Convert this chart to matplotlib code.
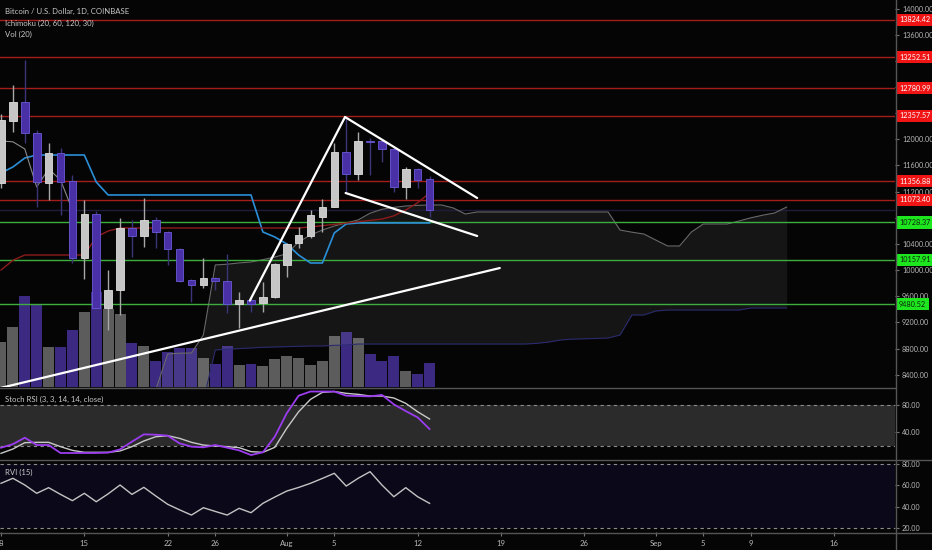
import matplotlib
matplotlib.use('Agg')
import matplotlib.pyplot as plt
import matplotlib.transforms as mtrans
from matplotlib.lines import Line2D
import numpy as np

plt.rcParams['font.family'] = ['Lato', 'DejaVu Sans']

## daily candles, day 0 = Jul 8
opens  = [11333, 12280, 12571, 12097, 11333, 11791, 11363, 10186, 10858, 9421,
          9696, 10644, 10522, 10767, 10583, 10323, 9849, 9773, 9880, 9834,
          9482, 9543, 9497, 9589, 10079, 10415, 10522, 10812, 10965, 11806,
          11470, 11968, 11974, 11852, 11271, 11546, 11393]
highs  = [12380, 12830, 13213, 12142, 11944, 11867, 11455, 11078, 10900, 10002,
          10797, 10767, 11103, 10812, 10600, 10340, 9870, 10186, 9890, 10247,
          9665, 9589, 9818, 10110, 10415, 10659, 10919, 11087, 11944, 12342,
          12112, 12020, 12000, 11883, 11577, 11560, 11439]
lows   = [11250, 12112, 11944, 10965, 11078, 10843, 10109, 9865, 9400, 9085,
          9314, 10201, 10354, 10338, 10079, 9820, 9512, 9727, 9696, 9345,
          9115, 9360, 9360, 9570, 9895, 10338, 10491, 10583, 10965, 11179,
          11378, 11455, 11653, 11195, 11087, 11255, 10812]
closes = [12295, 12571, 12097, 11347, 11791, 11347, 10186, 10858, 9421, 9696,
          10644, 10522, 10767, 10583, 10323, 9834, 9773, 9880, 9834, 9482,
          9543, 9482, 9589, 10094, 10399, 10537, 10843, 10965, 11806, 11470,
          11974, 11962, 11852, 11271, 11546, 11378, 10919]
volume = [4.5, 6.0, 9.1, 8.2, 4.0, 4.0, 5.7, 7.5, 9.5, 7.8,
          7.3, 4.4, 4.1, 2.6, 3.5, 3.9, 3.9, 2.9, 2.3, 4.1,
          2.2, 2.3, 2.1, 2.8, 3.1, 2.9, 2.2, 2.6, 5.1, 5.5,
          4.9, 3.3, 2.6, 3.1, 1.6, 1.3, 2.4]

## ichimoku (20, 60, 120, 30)
conv_line = [11485, 11577, 11714, 11760, 11760, 11760, 11760, 11760, 11347, 11149,
             11149, 11149, 11149, 11149, 11149, 11149, 11149, 11149, 11149, 11149,
             11149, 11149, 10583, 10507, 10400, 10231, 10109, 10109, 10568, 10706,
             10721, 10721, 10721, 10721, 10721, 10721, 10721]
base_line = [10002, 10150, 10231, 10231, 10231, 10231, 10231, 10231, 10506, 10598,
             10644, 10644, 10644, 10644, 10644, 10644, 10644, 10644, 10644, 10644,
             10644, 10644, 10644, 10644, 10644, 10644, 10660, 10680, 10700, 10720,
             10740, 10760, 10780, 10830, 10920, 11030, 11179]
span_start = 13
span_a = [8170, 8718, 8730, 8733, 9008, 10079, 10090, 10110, 10124, 10160,
          10200, 10250, 10430, 10537, 10613, 10675, 10721, 10767, 10870, 10930,
          10960, 10980, 10990, 10996, 10996, 10950, 10858, 10889, 10889, 10889,
          10889, 10889, 10889, 10889, 10889, 10889, 10889, 10889, 10889, 10613,
          10580, 10552, 10460, 10369, 10369, 10583, 10705, 10705, 10705, 10751,
          10800, 10840, 10874, 10965]
span_b = [8000, 8000, 8000, 8000, 8000, 8779, 8790, 8800, 8810, 8820,
          8825, 8830, 8835, 8840, 8840, 8850, 8855, 8870, 8870, 8870,
          8870, 8870, 8870, 8870, 8870, 8870, 8870, 8870, 8870, 8870,
          8870, 8870, 8880, 8900, 8932, 8945, 8950, 8955, 8962, 9008,
          9314, 9314, 9375, 9390, 9390, 9390, 9390, 9390, 9390, 9390,
          9421, 9421, 9421, 9421]
lag_shift = 30

## stoch rsi / rvi
stoch_k = [16.7, 22, 31.6, 20.7, 20.7, 8.9, 8.9, 8.9, 8.9, 9.4,
           14.3, 25.7, 36.5, 36, 34.6, 23.2, 18.3, 17.3, 20.7, 16.8,
           12.8, 5.9, 9.9, 33.1, 67.7, 93.8, 100, 100, 100, 93.8,
           93.3, 92.8, 95, 81, 71, 61.7, 44.4]
stoch_d = [8.4, 14.8, 24.2, 24.7, 24.7, 18.3, 12.8, 9.9, 9.9, 9.9,
           11.9, 18.3, 26.7, 33, 34.6, 30.6, 24.7, 20.7, 19.3, 18.3,
           16.8, 10.9, 9.9, 17.3, 45.4, 70, 88.4, 98.8, 100, 97.3,
           95.8, 93.3, 93.3, 90.4, 82.5, 70, 59.3]
rvi = [61.9, 66.6, 60.3, 52.5, 57.8, 51.5, 45.6, 52.5, 44.6, 52,
       60.3, 51.5, 58.1, 50, 42.2, 37, 32.1, 39, 35.5, 32.1,
       38.4, 34.3, 43.1, 49, 54.6, 58, 61.9, 66.5, 71.3, 59.3,
       66.6, 72.8, 60.3, 49.3, 57.8, 49.3, 43.1]

## levels and drawings
red_levels = [13824.42, 13252.51, 12780.99, 12357.57, 11356.88, 11073.40]
green_levels = [10728.37, 10157.91, 9480.52]
trend_lines = [((0.0, 8200), (41.9, 10032)),
               ((20.9, 9533), (28.9, 12341)),
               ((28.9, 12341), (40.0, 11103)),
               ((28.95, 11179), (40.0, 10522))]

price_ticks = list(range(8400, 14001, 400))
tick_pos = [0, 7, 14, 18, 24, 28, 35, 42, 49, 55, 59, 63, 70]
tick_lab = ['8', '15', '22', '26', 'Aug', '5', '12', '19', '26', 'Sep', '5', '9', '16']

BG = '#050505'
FS = 5.2
W, H = 932, 550
def rect(x0, y0, x1, y1):
    return [x0 / W, 1 - y1 / H, (x1 - x0) / W, (y1 - y0) / H]

def right_axis(a, ticks, labels):
    a.yaxis.tick_right()
    a.set_yticks(ticks)
    a.set_yticklabels(labels)
    a.tick_params(axis='y', length=3, color='#777777', labelcolor='#b8b8b8', labelsize=FS, pad=2)
    for s in a.spines.values():
        s.set_visible(False)

fig = plt.figure(figsize=(9.32, 5.5), dpi=100, facecolor=BG)
XL = (-0.084, 75.1)

days = np.arange(len(closes))
o = np.array(opens); c = np.array(closes)
up = c >= o

# volume pane (behind price)
axv = fig.add_axes(rect(0, 0, 895, 387), zorder=0, facecolor=BG)
axv.bar(days, volume, width=0.92, color=np.where(up, '#5c5c5c', '#3c2a82'), linewidth=0)
axv.set_xlim(XL); axv.set_ylim(0, 38.7)
axv.axis('off')

ax = fig.add_axes(rect(0, 0, 895, 387), zorder=1)
ax.set_facecolor('none')
ax.set_xlim(XL); ax.set_ylim(8213, 14130)

# cloud
sx = np.arange(span_start, span_start + len(span_a))
ax.fill_between(sx, span_a, span_b, color='white', alpha=0.065, linewidth=0, zorder=1)
ax.plot(sx, span_a, color='#6a6a6a', lw=0.8, zorder=2)
ax.plot(sx, span_b, color='#2a2a6e', lw=0.8, zorder=2)

for lv in red_levels:
    ax.axhline(lv, color='#a51c1c', lw=1, zorder=2)
for lv in green_levels:
    ax.axhline(lv, color='#3dae3d', lw=1, zorder=2)
ax.axhline(closes[-1], color='#1d1d3a', lw=1, zorder=1.5)

ax.plot(days, conv_line, color='#2b8fd8', lw=1.2, zorder=3)
ax.plot(days, base_line, color='#8e1b1b', lw=1, zorder=3)
ax.plot(days[lag_shift:] - lag_shift, closes[lag_shift:], color='#8a8a8a', lw=0.8, zorder=3)

# candles
ax.vlines(days, lows, highs, colors=np.where(up, '#a8a8a8', '#3b3478'), lw=1, zorder=4)
body_lo = np.minimum(o, c)
body_h = np.maximum(np.abs(c - o), 15)
ax.bar(days, body_h, bottom=body_lo, width=0.64, color=np.where(up, '#c6c6c6', '#4a30a6'),
       edgecolor=np.where(up, '#dedede', '#6a5ad8'), linewidth=0.6, zorder=5)

for (x0, y0), (x1, y1) in trend_lines:
    ax.plot([x0, x1], [y0, y1], color='white', lw=1.6, zorder=6, solid_capstyle='round')

# price labels that sit under a level box are covered in the original
levels = red_levels + green_levels
plabels = ['' if min(abs(v - lv) for lv in levels) < 100 else '%.2f' % v for v in price_ticks]
right_axis(ax, price_ticks, plabels)
ax.set_xticks([])

tr = mtrans.blended_transform_factory(ax.transAxes, ax.transData)
for lv in red_levels:
    ax.text(1.0045, lv, '%.2f' % lv, transform=tr, color='white', fontsize=FS, va='center',
            ha='left', clip_on=False, zorder=10,
            bbox=dict(boxstyle='square,pad=0.35', fc='#f01414', ec='none'))
for lv in green_levels:
    ax.text(1.0045, lv, '%.2f' % lv, transform=tr, color='#0c200c', fontsize=FS, va='center',
            ha='left', clip_on=False, zorder=10,
            bbox=dict(boxstyle='square,pad=0.35', fc='#1ee61e', ec='none'))

# stoch rsi pane
ax2 = fig.add_axes(rect(0, 387, 895, 459), facecolor=BG)
ax2.set_xlim(XL); ax2.set_ylim(0, 106.7)
ax2.axhspan(20, 80, color='#2b2b2b', lw=0)
for lv in (20, 80):
    ax2.axhline(lv, color='#8c8c8c', lw=0.8, dashes=(3, 3))
ax2.plot(days, stoch_d, color='#c8c8c8', lw=1)
ax2.plot(days, stoch_k, color='#9b3cf0', lw=1.3)
right_axis(ax2, [40, 80], ['40.00', '80.00'])
ax2.set_xticks([])

# rvi pane
ax3 = fig.add_axes(rect(0, 459, 895, 532), facecolor=BG)
ax3.set_xlim(XL); ax3.set_ylim(16.2, 84.7)
ax3.axhspan(20, 80, color='#0b0919', lw=0)
for lv in (20, 80):
    ax3.axhline(lv, color='#8c8c8c', lw=0.8, dashes=(3, 3))
ax3.plot(days, rvi, color='#c4c4c4', lw=1)
right_axis(ax3, [20, 40, 60, 80], ['20.00', '40.00', '60.00', '80.00'])
ax3.set_xticks(tick_pos)
ax3.set_xticklabels(tick_lab)
ax3.tick_params(axis='x', length=3, color='#777777', labelcolor='#b8b8b8', labelsize=FS + 0.4, pad=3)

# pane separators
def fline(x0, y0, x1, y1):
    fig.add_artist(Line2D([x0 / W, x1 / W], [1 - y0 / H, 1 - y1 / H], color='#555555', lw=1,
                          transform=fig.transFigure, zorder=20))
fline(895.5, 0, 895.5, 550)
fline(0, 387.5, 895, 387.5)
fline(0, 459.5, 932, 459.5)
fline(0, 532.5, 932, 532.5)

# titles
tc = dict(color='#c8c8c8', fontsize=5.6, va='center')
fig.text(5 / W, 1 - 11 / H, 'Bitcoin / U.S. Dollar, 1D, COINBASE', **tc)
fig.text(5 / W, 1 - 23 / H, 'Ichimoku (20, 60, 120, 30)', **tc)
fig.text(5 / W, 1 - 34 / H, 'Vol (20)', **tc)
fig.text(5 / W, 1 - 399 / H, 'Stoch RSI (3, 3, 14, 14, close)', **tc)
fig.text(5 / W, 1 - 472 / H, 'RVI (15)', **tc)

fig.savefig('out.png', dpi=100, facecolor=BG)
